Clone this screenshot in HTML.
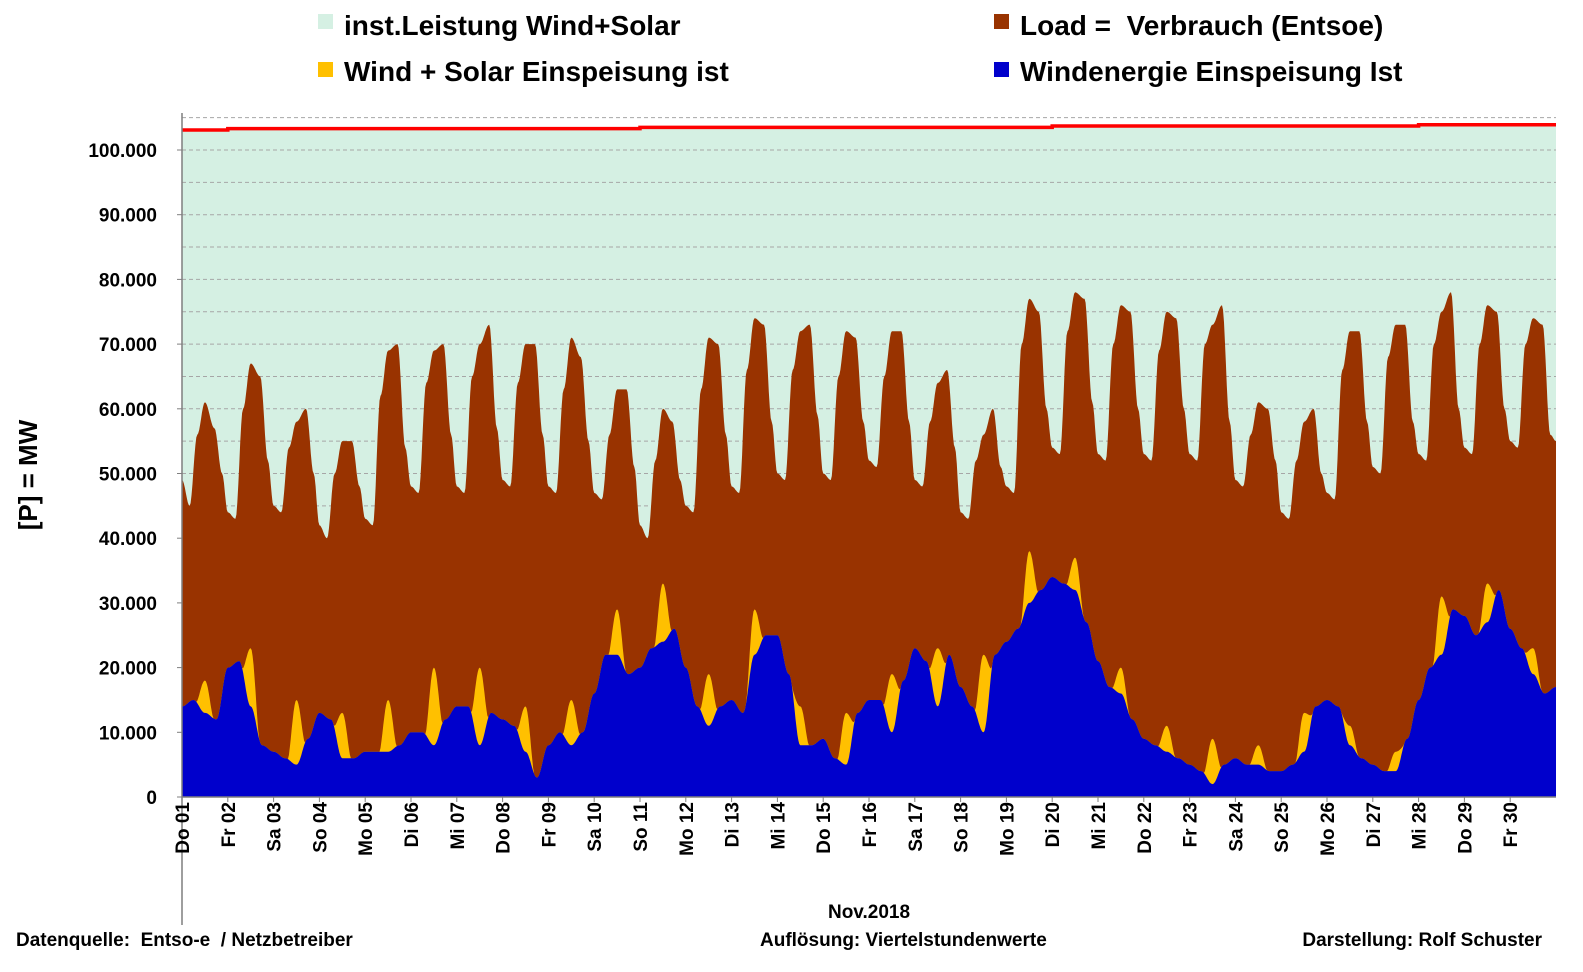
<!DOCTYPE html>
<html><head><meta charset="utf-8"><style>
body{margin:0;background:#fff;font-family:"Liberation Sans",sans-serif}
svg text{font-family:"Liberation Sans",sans-serif;font-weight:bold}
</style></head><body>
<svg id="c" width="1583" height="967" xmlns="http://www.w3.org/2000/svg">
<g>
<rect x="318" y="14" width="15" height="15" fill="#d5f0e3"/>
<text x="344" y="35" font-size="28">inst.Leistung Wind+Solar</text>
<rect x="318" y="62" width="15" height="15" fill="#ffc000"/>
<text x="344" y="81" font-size="28">Wind + Solar Einspeisung ist</text>
<rect x="994" y="14" width="15" height="15" fill="#993300"/>
<text x="1020" y="35" font-size="28" xml:space="preserve">Load =  Verbrauch (Entsoe)</text>
<rect x="994" y="62" width="15" height="15" fill="#0000cc"/>
<text x="1020" y="81" font-size="28">Windenergie Einspeisung Ist</text>
</g>
<g id="plot"></g>
<text transform="translate(37,475) rotate(-90)" text-anchor="middle" font-size="26">[P] = MW</text>
<text x="869" y="918" text-anchor="middle" font-size="19">Nov.2018</text>
<text x="16" y="946" font-size="19" xml:space="preserve">Datenquelle:  Entso-e  / Netzbetreiber</text>
<text x="760" y="946" font-size="19">Auflösung: Viertelstundenwerte</text>
<text x="1542" y="946" text-anchor="end" font-size="19">Darstellung: Rolf Schuster</text>
</svg>
<script>
const dayLabels=["Do 01","Fr 02","Sa 03","So 04","Mo 05","Di 06","Mi 07","Do 08","Fr 09","Sa 10","So 11","Mo 12","Di 13","Mi 14","Do 15","Fr 16","Sa 17","So 18","Mo 19","Di 20","Mi 21","Do 22","Fr 23","Sa 24","So 25","Mo 26","Di 27","Mi 28","Do 29","Fr 30"];
const yTicks=[0,10000,20000,30000,40000,50000,60000,70000,80000,90000,100000];
// load at hours 0,4,8,12,17,21 for each day (MW)
const loadPts=[
[49000,45000,56000,61000,57000,50000],[44000,43000,60000,67000,65000,52000],[45000,44000,54000,58000,60000,50000],
[42000,40000,50000,55000,55000,48000],[43000,42000,62000,69000,70000,54000],[48000,47000,64000,69000,70000,56000],
[48000,47000,65000,70000,73000,57000],[49000,48000,64000,70000,70000,56000],[48000,47000,63000,71000,68000,55000],
[47000,46000,56000,63000,63000,51000],[42000,40000,52000,60000,58000,49000],[45000,44000,63000,71000,70000,56000],
[48000,47000,66000,74000,73000,58000],[50000,49000,66000,72000,73000,59000],[50000,49000,65000,72000,71000,58000],
[52000,51000,65000,72000,72000,58000],[49000,48000,58000,64000,66000,54000],[44000,43000,52000,56000,60000,51000],
[48000,47000,70000,77000,75000,60000],[54000,53000,72000,78000,77000,61000],[53000,52000,70000,76000,75000,60000],
[53000,52000,69000,75000,74000,60000],[53000,52000,70000,73000,76000,58000],[49000,48000,56000,61000,60000,52000],
[44000,43000,52000,58000,60000,50000],[47000,46000,66000,72000,72000,58000],[51000,50000,68000,73000,73000,58000],
[53000,52000,70000,75000,78000,60000],[54000,53000,70000,76000,75000,60000],[55000,54000,70000,74000,73000,56000]];
// wind feed-in every 6 hours (MW), 121 values
const windVals=[14,15,13,12,20,21,14,8,7,6,5,9,13,12,6,6,7,7,7,8,10,10,8,12,14,14,8,13,12,11,7,3,8,10,8,10,16,22,22,19,20,23,24,26,20,14,11,14,15,13,22,25,25,19,8,8,9,6,5,13,15,15,10,18,23,21,14,22,17,14,10,22,24,26,30,32,34,33,32,27,21,17,16,12,9,8,7,6,5,4,2,5,6,5,5,4,4,5,7,14,15,14,8,6,5,4,4,9,15,20,22,29,28,25,27,32,26,23,19,16,17].map(v=>v*1000);
// solar noon peak per day (MW)
const solarPeak=[5000,9000,10000,7000,8000,12000,12000,7000,7000,7000,9000,8000,7000,6000,8000,9000,9000,12000,8000,5000,4000,4000,7000,3000,6000,3000,3000,9000,6000,4000];
// installed capacity per day (MW)
const instCap=[103100,103300,103300,103300,103300,103300,103300,103300,103300,103300,103500,103500,103500,103500,103500,103500,103500,103500,103500,103700,103700,103700,103700,103700,103700,103700,103700,103900,103900,103900];

const NS="http://www.w3.org/2000/svg";
const X0=182,X1=1556,Y0=797,PX=64.7/10000,TOP=113;
const DW=(X1-X0)/30;
const xH=h=>X0+h/24*DW;
const yV=v=>Y0-v*PX;
const plot=document.getElementById('plot');
function mk(t,a){const e=document.createElementNS(NS,t);for(const k in a)e.setAttribute(k,a[k]);plot.appendChild(e);return e;}
const hrs=[0,4,8,12,17,21];
function loadAt(h){
 const d=Math.min(29,Math.floor(h/24));
 let pts=hrs.map((hh,i)=>[d*24+hh,loadPts[d][i]]);
 if(d<29)pts.push([(d+1)*24,loadPts[d+1][0]]);else pts.push([720,55000]);
 for(let i=0;i<pts.length-1;i++){if(h>=pts[i][0]&&h<=pts[i+1][0]){const t=(h-pts[i][0])/(pts[i+1][0]-pts[i][0]);const s=(1-Math.cos(Math.PI*t))/2;return pts[i][1]+(pts[i+1][1]-pts[i][1])*s;}}
 return pts[pts.length-1][1];
}
function windAt(h){const i=Math.min(119,Math.floor(h/6));const t=h/6-i;const s=(1-Math.cos(Math.PI*t))/2;return windVals[i]+(windVals[i+1]-windVals[i])*s;}
function solarAt(h){const d=Math.min(29,Math.floor(h/24));const lh=h-d*24;if(lh<7.5||lh>16.5)return 0;return solarPeak[d]*Math.pow(Math.sin(Math.PI*(lh-7.5)/9),1.5);}
let p="M"+X0+","+Y0;
instCap.forEach((v,d)=>{p+=" L"+xH(d*24)+","+yV(v)+" L"+xH(d*24+24)+","+yV(v);});
p+=" L"+X1+","+Y0+"Z";
let e=mk('path',{d:p,fill:'#d5f0e3'});


for(let v=5000;v<=105000;v+=5000){const g=mk('line',{x1:X0,x2:X1,y1:yV(v),y2:yV(v),stroke:'#a6a6a6','stroke-dasharray':'4,3','stroke-width':1});
 
 }
function area(fn,fill,name){let s="M"+X0+","+Y0;for(let h=0;h<=720;h+=0.5)s+=" L"+xH(h).toFixed(1)+","+yV(fn(h)).toFixed(1);s+=" L"+X1+","+Y0+"Z";const a=mk('path',{d:s,fill:fill});
 
 }
area(loadAt,'#993300','load-area');
area(h=>windAt(h)+solarAt(h),'#ffc000','wind-solar-area');
area(windAt,'#0000cc','wind-area');
let r="";instCap.forEach((v,d)=>{r+=(d?" L":"M")+xH(d*24)+","+yV(v)+" L"+xH(d*24+24)+","+yV(v);});
e=mk('path',{d:r,fill:'none',stroke:'#ff0000','stroke-width':3.5});


e=mk('line',{x1:X0,x2:X0,y1:TOP,y2:925,stroke:'#7f7f7f','stroke-width':1.5});


e=mk('line',{x1:X0,x2:X1,y1:Y0,y2:Y0,stroke:'#7f7f7f','stroke-width':1.5});


yTicks.forEach(v=>{const t=mk('text',{x:157,y:yV(v)+7,'text-anchor':'end','font-size':19});t.textContent=v.toLocaleString('de-DE');
 
 
 mk('line',{x1:X0-5,x2:X0,y1:yV(v),y2:yV(v),stroke:'#7f7f7f'});});
dayLabels.forEach((l,d)=>{const x=xH(d*24);const t=mk('text',{transform:`translate(${x+7},802) rotate(-90)`,'text-anchor':'end','font-size':19});t.textContent=l;
 
 
 mk('line',{x1:x,x2:x,y1:Y0,y2:Y0+5,stroke:'#7f7f7f'});});
</script>
</body></html>
